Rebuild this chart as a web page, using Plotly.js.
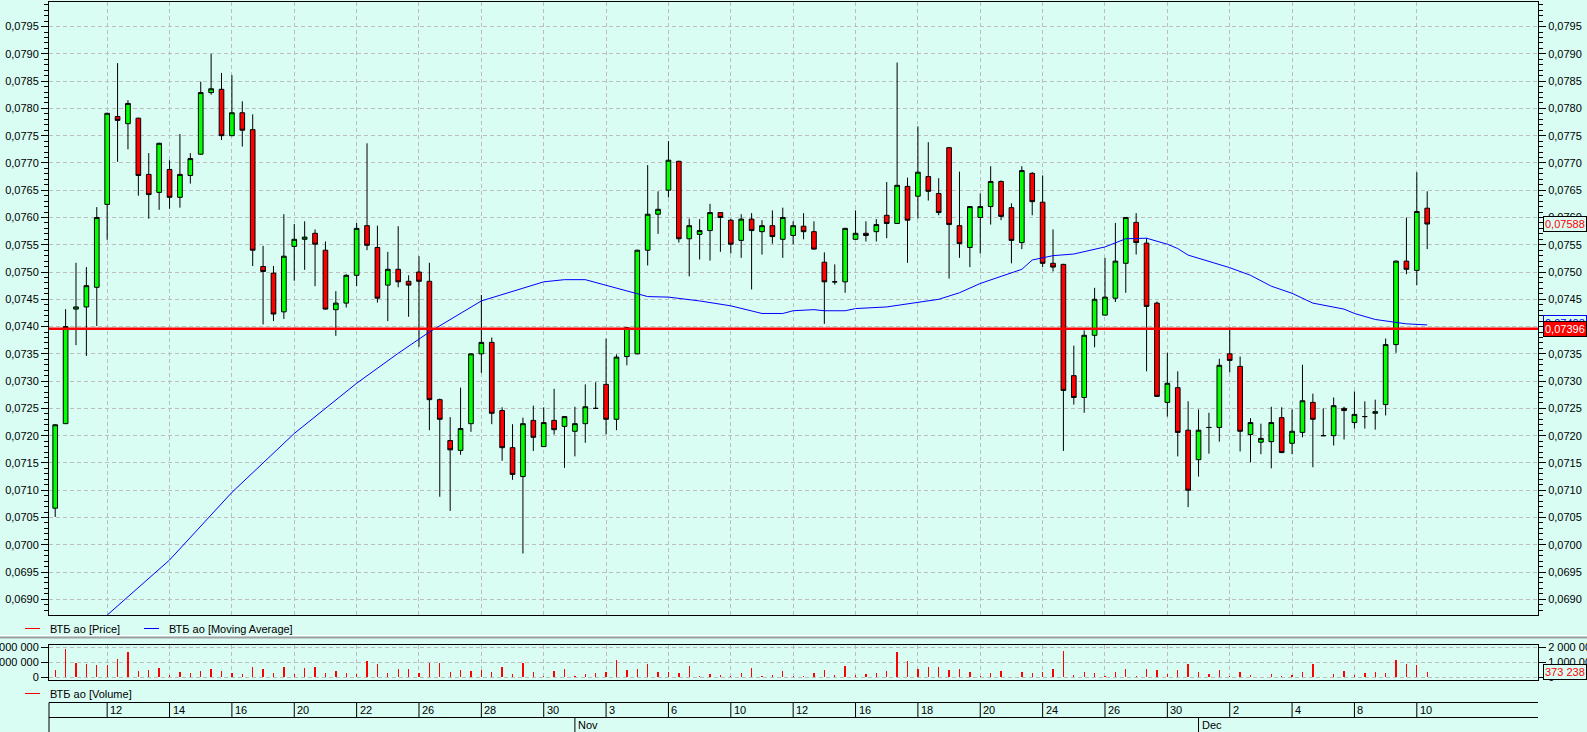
<!DOCTYPE html>
<html><head><meta charset="utf-8">
<script src="https://cdn.plot.ly/plotly-3.0.1.min.js"></script>
<style>html,body{margin:0;padding:0;background:#D9FCF3;overflow:hidden}#chart{width:1587px;height:732px}</style>
</head><body><div id="chart"></div>
<script>
// ---- data ----
const dayTickIdx = [5, 11, 17, 23, 29, 35, 41, 47, 53, 59, 65, 71, 77, 83, 89, 95, 101, 107, 113, 119, 125, 131];
const dayTickText = ['12','14','16','20','22','26','28','30','3','6','10','12','16','18','20','24','26','30','2','4','8','10'];
const monthIdx = [50, 110];
const monthText = ['Nov', 'Dec'];

const open = [0.07067,0.07222,0.07432,0.07436,0.07472,0.07624,0.07785,0.07772,0.07782,0.07679,
0.07646,0.07688,0.07637,0.07677,0.07716,0.07829,0.07835,0.07750,0.07792,0.07761,
0.07510,0.07498,0.07427,0.07547,0.07560,0.07571,0.07540,0.07431,0.07443,0.07494,
0.07585,0.07545,0.07476,0.07505,0.07483,0.07500,0.07483,0.07266,0.07191,0.07173,
0.07222,0.07350,0.07371,0.07246,0.07178,0.07125,0.07228,0.07180,0.07228,0.07217,
0.07208,0.07222,0.07250,0.07294,0.07230,0.07345,0.07350,0.07540,0.07606,0.07650,
0.07703,0.07561,0.07569,0.07576,0.07609,0.07595,0.07558,0.07597,0.07574,0.07585,
0.07560,0.07567,0.07584,0.07574,0.07518,0.07482,0.07482,0.07560,0.07571,0.07574,
0.07604,0.07589,0.07657,0.07639,0.07675,0.07644,0.07728,0.07585,0.07545,0.07600,
0.07620,0.07666,0.07618,0.07554,0.07681,0.07628,0.07516,0.07514,0.07310,0.07270,
0.07384,0.07421,0.07452,0.07516,0.07591,0.07553,0.07443,0.07261,0.07288,0.07210,
0.07156,0.07215,0.07215,0.07350,0.07327,0.07202,0.07188,0.07189,0.07233,0.07186,
0.07206,0.07261,0.07200,0.07200,0.07250,0.07224,0.07235,0.07241,0.07257,0.07367,
0.07520,0.07503,0.07617];

const high = [0.07221,0.07432,0.07517,0.07509,0.07619,0.07792,0.07883,0.07815,0.07783,0.07718,
0.07737,0.07705,0.07753,0.07718,0.07849,0.07900,0.07865,0.07861,0.07813,0.07789,
0.07548,0.07511,0.07606,0.07588,0.07593,0.07578,0.07556,0.07465,0.07496,0.07590,
0.07736,0.07585,0.07537,0.07584,0.07494,0.07529,0.07517,0.07268,0.07234,0.07288,
0.07351,0.07458,0.07380,0.07252,0.07221,0.07233,0.07255,0.07252,0.07286,0.07236,
0.07253,0.07294,0.07298,0.07378,0.07349,0.07399,0.07541,0.07696,0.07648,0.07740,
0.07704,0.07598,0.07597,0.07625,0.07610,0.07598,0.07606,0.07608,0.07595,0.07613,
0.07618,0.07593,0.07608,0.07593,0.07536,0.07514,0.07581,0.07613,0.07593,0.07597,
0.07665,0.07884,0.07673,0.07767,0.07738,0.07672,0.07729,0.07684,0.07621,0.07644,
0.07694,0.07668,0.07626,0.07694,0.07683,0.07677,0.07578,0.07515,0.07365,0.07393,
0.07471,0.07526,0.07590,0.07601,0.07608,0.07562,0.07446,0.07352,0.07318,0.07263,
0.07248,0.07242,0.07341,0.07398,0.07345,0.07232,0.07222,0.07253,0.07252,0.07248,
0.07330,0.07277,0.07250,0.07270,0.07253,0.07281,0.07263,0.07266,0.07378,0.07521,
0.07600,0.07683,0.07648];

const low = [0.07051,0.07222,0.07366,0.07346,0.07401,0.07559,0.07702,0.07725,0.07640,0.07598,
0.07614,0.07616,0.07618,0.07662,0.07715,0.07825,0.07742,0.07749,0.07730,0.07511,
0.07404,0.07410,0.07414,0.07484,0.07504,0.07474,0.07431,0.07383,0.07435,0.07474,
0.07540,0.07444,0.07410,0.07472,0.07418,0.07363,0.07210,0.07088,0.07062,0.07165,
0.07207,0.07315,0.07221,0.07154,0.07119,0.06984,0.07172,0.07179,0.07202,0.07141,
0.07162,0.07187,0.07250,0.07202,0.07210,0.07329,0.07349,0.07512,0.07570,0.07637,
0.07554,0.07492,0.07523,0.07521,0.07537,0.07534,0.07526,0.07468,0.07532,0.07552,
0.07526,0.07551,0.07560,0.07541,0.07405,0.07477,0.07462,0.07559,0.07556,0.07556,
0.07562,0.07588,0.07517,0.07598,0.07631,0.07604,0.07488,0.07526,0.07509,0.07534,
0.07587,0.07595,0.07516,0.07542,0.07604,0.07509,0.07501,0.07172,0.07257,0.07242,
0.07362,0.07420,0.07445,0.07462,0.07532,0.07318,0.07271,0.07235,0.07162,0.07069,
0.07125,0.07167,0.07189,0.07316,0.07171,0.07151,0.07166,0.07140,0.07168,0.07166,
0.07197,0.07142,0.07200,0.07182,0.07193,0.07213,0.07213,0.07211,0.07237,0.07352,
0.07496,0.07476,0.07542];

const close = [0.07220,0.07400,0.07436,0.07475,0.07600,0.07791,0.07778,0.07809,0.07677,0.07642,
0.07736,0.07637,0.07679,0.07708,0.07829,0.07836,0.07750,0.07792,0.07760,0.07540,
0.07501,0.07423,0.07529,0.07560,0.07564,0.07551,0.07432,0.07443,0.07494,0.07580,
0.07549,0.07452,0.07505,0.07482,0.07476,0.07483,0.07266,0.07230,0.07174,0.07213,
0.07350,0.07371,0.07241,0.07178,0.07129,0.07222,0.07197,0.07224,0.07211,0.07235,
0.07222,0.07253,0.07250,0.07230,0.07344,0.07398,0.07540,0.07606,0.07615,0.07705,
0.07561,0.07585,0.07576,0.07609,0.07600,0.07551,0.07597,0.07576,0.07585,0.07565,
0.07600,0.07585,0.07574,0.07542,0.07482,0.07482,0.07580,0.07571,0.07567,0.07587,
0.07589,0.07659,0.07595,0.07683,0.07648,0.07609,0.07587,0.07552,0.07620,0.07620,
0.07666,0.07602,0.07558,0.07686,0.07629,0.07516,0.07509,0.07283,0.07270,0.07384,
0.07450,0.07454,0.07520,0.07600,0.07554,0.07437,0.07272,0.07296,0.07206,0.07100,
0.07210,0.07215,0.07329,0.07338,0.07208,0.07224,0.07195,0.07224,0.07169,0.07208,
0.07264,0.07230,0.07200,0.07255,0.07246,0.07239,0.07235,0.07244,0.07367,0.07520,
0.07505,0.07611,0.07588];

const volume = [490000,1910000,980000,890000,820000,820000,1220000,1690000,420000,490000,
620000,160000,360000,290000,420000,560000,420000,290000,220000,690000,
560000,290000,690000,220000,620000,690000,290000,420000,290000,220000,
1090000,890000,290000,560000,560000,290000,960000,960000,360000,490000,
420000,490000,360000,690000,220000,960000,360000,90000,420000,560000,
90000,220000,290000,360000,1160000,490000,560000,890000,360000,360000,
290000,760000,90000,220000,160000,90000,290000,620000,90000,160000,
420000,90000,90000,290000,490000,160000,760000,160000,220000,290000,
420000,1690000,1090000,560000,690000,690000,490000,560000,360000,90000,
290000,420000,20000,360000,290000,360000,560000,1760000,160000,360000,
290000,90000,360000,560000,90000,560000,490000,220000,490000,890000,
360000,220000,490000,90000,360000,160000,20000,220000,90000,160000,
360000,890000,20000,220000,420000,160000,290000,360000,290000,1160000,
890000,820000,373238];

const maIdx = [5, 11, 17, 23, 29, 33, 36, 41, 47, 49, 51, 53, 56, 57, 59, 62, 65, 68, 70, 71, 73, 74, 76, 77, 80, 83, 85, 87, 89, 91, 93, 94, 96, 98, 101, 103, 105, 107, 108, 109, 111, 113, 115, 117, 119, 121, 124, 125, 127, 129, 130, 132];
const maVal = [0.06871,0.06972,0.07096,0.07204,0.07296,0.07351,0.07390,0.07447,0.07482,0.07486,0.07486,0.07476,0.07461,0.07455,0.07454,0.07447,0.07438,0.07424,0.07424,0.07429,0.07431,0.07429,0.07429,0.07433,0.07436,0.07445,0.07450,0.07462,0.07479,0.07492,0.07505,0.07522,0.07530,0.07533,0.07546,0.07561,0.07562,0.07551,0.07543,0.07531,0.07519,0.07508,0.07494,0.07474,0.07461,0.07443,0.07432,0.07424,0.07413,0.07407,0.07405,0.07403];

const priceLevel = 0.07396;

const legendPrice = 'ВТБ ао [Price]';
const legendMA = 'ВТБ ао [Moving Average]';
const legendVol = 'ВТБ ао [Volume]';

// ---- layout helpers ----
const W = 1587, H = 732, ML = 49, MR = 49;
const BG = '#D9FCF3', GRID = '#BDBDBD', DASH = '4px,3px';
const FONT = 'Liberation Sans, Arial, sans-serif';
const px = v => (v - ML) / (W - ML - MR);
const py = v => 1 - v / H;
const idx = close.map((_, i) => i);
const fmtP = v => v.toFixed(5).replace('.', ',');
const fmtV = v => String(Math.round(v)).replace(/\B(?=(\d{3})+(?!\d))/g, ' ');

const yMainRange = [0.068712, 0.079945];
const yVolRange = [-200000, 2153000];

const traces = [
  {type:'candlestick', x:idx, open:open, high:high, low:low, close:close,
   xaxis:'x', yaxis:'y', whiskerwidth:0, hoverinfo:'skip', showlegend:false,
   increasing:{line:{color:'#000000', width:1}, fillcolor:'#00FF00'},
   decreasing:{line:{color:'#000000', width:1}, fillcolor:'#FF0000'}},
  {type:'scatter', mode:'lines', x:maIdx, y:maVal, xaxis:'x', yaxis:'y',
   line:{color:'#0000FF', width:1}, hoverinfo:'skip', showlegend:false},
  {type:'scatter', mode:'none', x:[idx[0]], y:[close[0]], xaxis:'x', yaxis:'y2', hoverinfo:'skip', showlegend:false},
  {type:'bar', x:idx, y:volume, xaxis:'x2', yaxis:'y3', width:0.13,
   marker:{color:'#FF0000', line:{width:0}}, hoverinfo:'skip', showlegend:false},
  {type:'scatter', mode:'none', x:[idx[0]], y:[0], xaxis:'x2', yaxis:'y4', hoverinfo:'skip', showlegend:false}
];

const yTickCommon = {dtick:0.0005, tick0:0, tickformat:'.4f', ticks:'outside', ticklen:7, tickcolor:'#000', tickwidth:1,
  minor:{dtick:0.0001, tick0:0, ticks:'outside', ticklen:4, tickcolor:'#000', tickwidth:1, showgrid:false},
  zeroline:false, fixedrange:true};
const vTickCommon = {tickvals:[0, 1000000, 2000000], tickformat:',d', ticks:'outside', ticklen:7, tickcolor:'#000', tickwidth:1,
  zeroline:false, fixedrange:true};

const shapes = [];
const annotations = [];

// red price level line
shapes.push({type:'line', xref:'x domain', x0:0, x1:1, yref:'y', y0:priceLevel, y1:priceLevel,
  line:{color:'#FF0000', width:2.5}, layer:'above'});

// legend of main pane
shapes.push({type:'line', xref:'paper', x0:px(25), x1:px(40), yref:'paper', y0:py(628.5), y1:py(628.5), line:{color:'#FF0000', width:1}});
shapes.push({type:'line', xref:'paper', x0:px(144), x1:px(159), yref:'paper', y0:py(628.5), y1:py(628.5), line:{color:'#0000FF', width:1}});
annotations.push({xref:'paper', yref:'paper', x:px(48), y:py(628.5), xanchor:'left', yanchor:'middle', text:legendPrice, showarrow:false, font:{size:11, color:'#000'}});
annotations.push({xref:'paper', yref:'paper', x:px(167), y:py(628.5), xanchor:'left', yanchor:'middle', text:legendMA, showarrow:false, font:{size:11, color:'#000'}});
// separator between panes
shapes.push({type:'line', xref:'paper', x0:px(0), x1:px(W), yref:'paper', y0:py(635.5), y1:py(635.5), line:{color:'#FFFFFF', width:1}});
shapes.push({type:'line', xref:'paper', x0:px(0), x1:px(W), yref:'paper', y0:py(637.5), y1:py(637.5), line:{color:'#A0A0A0', width:2}});
// volume legend
shapes.push({type:'line', xref:'paper', x0:px(25), x1:px(40), yref:'paper', y0:py(693.5), y1:py(693.5), line:{color:'#FF0000', width:1}});
annotations.push({xref:'paper', yref:'paper', x:px(48), y:py(693.5), xanchor:'left', yanchor:'middle', text:legendVol, showarrow:false, font:{size:11, color:'#000'}});

// date strip
const yTop = py(702.5), yMid = py(717.5), yBot = py(732);
shapes.push({type:'line', xref:'x domain', x0:0, x1:1, yref:'paper', y0:yTop, y1:yTop, line:{color:'#000', width:1}});
shapes.push({type:'line', xref:'x domain', x0:0, x1:1, yref:'paper', y0:yMid, y1:yMid, line:{color:'#000', width:1}});
shapes.push({type:'line', xref:'x domain', x0:0, x1:0, yref:'paper', y0:yBot, y1:yTop, line:{color:'#000', width:1}});
dayTickIdx.forEach((t, k) => {
  shapes.push({type:'line', xref:'x', x0:t, x1:t, yref:'paper', y0:yMid, y1:yTop, line:{color:'#000', width:1}});
  annotations.push({xref:'x', yref:'paper', x:t, y:py(710), xanchor:'left', yanchor:'middle', xshift:1,
    text:dayTickText[k], showarrow:false, font:{size:11, color:'#000'}});
});
monthIdx.forEach((t, k) => {
  shapes.push({type:'line', xref:'x', x0:t, x1:t, yref:'paper', y0:yBot, y1:yMid, line:{color:'#000', width:1}});
  annotations.push({xref:'x', yref:'paper', x:t, y:py(725), xanchor:'left', yanchor:'middle', xshift:1,
    text:monthText[k], showarrow:false, font:{size:11, color:'#000'}});
});

// value labels on the right
const lastMA = maVal[maVal.length - 1];
const lastClose = close[close.length - 1];
const lastVol = volume[volume.length - 1];
annotations.push({xref:'paper', yref:'y', x:1, y:lastMA, xanchor:'left', yanchor:'middle', xshift:5, yshift:2,
  text:fmtP(lastMA), showarrow:false, font:{size:11, color:'#0000FF'}, bgcolor:BG, bordercolor:'#0000FF', borderwidth:1, borderpad:1});
annotations.push({xref:'paper', yref:'y', x:1, y:priceLevel, xanchor:'left', yanchor:'middle', xshift:5,
  text:fmtP(priceLevel), showarrow:false, font:{size:11, color:'#FFFFFF'}, bgcolor:'#FF0000', bordercolor:'#000', borderwidth:1, borderpad:1});
annotations.push({xref:'paper', yref:'y', x:1, y:lastClose, xanchor:'left', yanchor:'middle', xshift:5,
  text:fmtP(lastClose), showarrow:false, font:{size:11, color:'#FF0000'}, bgcolor:BG, bordercolor:'#000', borderwidth:1, borderpad:1});
annotations.push({xref:'paper', yref:'y3', x:1, y:lastVol, xanchor:'left', yanchor:'middle', xshift:5,
  text:fmtV(lastVol), showarrow:false, font:{size:11, color:'#FF0000'}, bgcolor:BG, bordercolor:'#000', borderwidth:1, borderpad:1});

const layout = {
  width:W, height:H, margin:{l:ML, r:MR, t:0, b:0, pad:0},
  paper_bgcolor:BG, plot_bgcolor:BG, separators:', ',
  font:{family:FONT, size:11, color:'#000'},
  showlegend:false, dragmode:false, boxgap:0.36, bargap:0,
  xaxis:{domain:[0,1], range:[-0.597, 142.66], anchor:'y', tickvals:dayTickIdx, showticklabels:false, ticks:'',
    showgrid:true, gridcolor:GRID, griddash:DASH, gridwidth:1, showline:true, mirror:true, linecolor:'#000', linewidth:1,
    zeroline:false, rangeslider:{visible:false}, fixedrange:true},
  yaxis: Object.assign({domain:[py(615), py(2.3)], range:yMainRange, anchor:'x',
    showgrid:true, gridcolor:GRID, griddash:DASH, gridwidth:1, showline:true, mirror:true, linecolor:'#000', linewidth:1}, yTickCommon),
  yaxis2: Object.assign({overlaying:'y', side:'right', anchor:'x', range:yMainRange, showgrid:false, showline:false}, yTickCommon),
  xaxis2:{domain:[0,1], matches:'x', anchor:'y3', tickvals:dayTickIdx, showticklabels:false, ticks:'',
    showgrid:true, gridcolor:GRID, griddash:DASH, gridwidth:1, showline:true, mirror:true, linecolor:'#000', linewidth:1,
    zeroline:false, fixedrange:true},
  yaxis3: Object.assign({domain:[py(680.3), py(645)], range:yVolRange, anchor:'x2',
    showgrid:true, gridcolor:GRID, griddash:DASH, gridwidth:1, showline:true, mirror:true, linecolor:'#000', linewidth:1}, vTickCommon),
  yaxis4: Object.assign({overlaying:'y3', side:'right', anchor:'x2', range:yVolRange, showgrid:false, showline:false}, vTickCommon),
  shapes:shapes, annotations:annotations
};

Plotly.newPlot('chart', traces, layout, {displayModeBar:false, staticPlot:true});
</script>
</body></html>
